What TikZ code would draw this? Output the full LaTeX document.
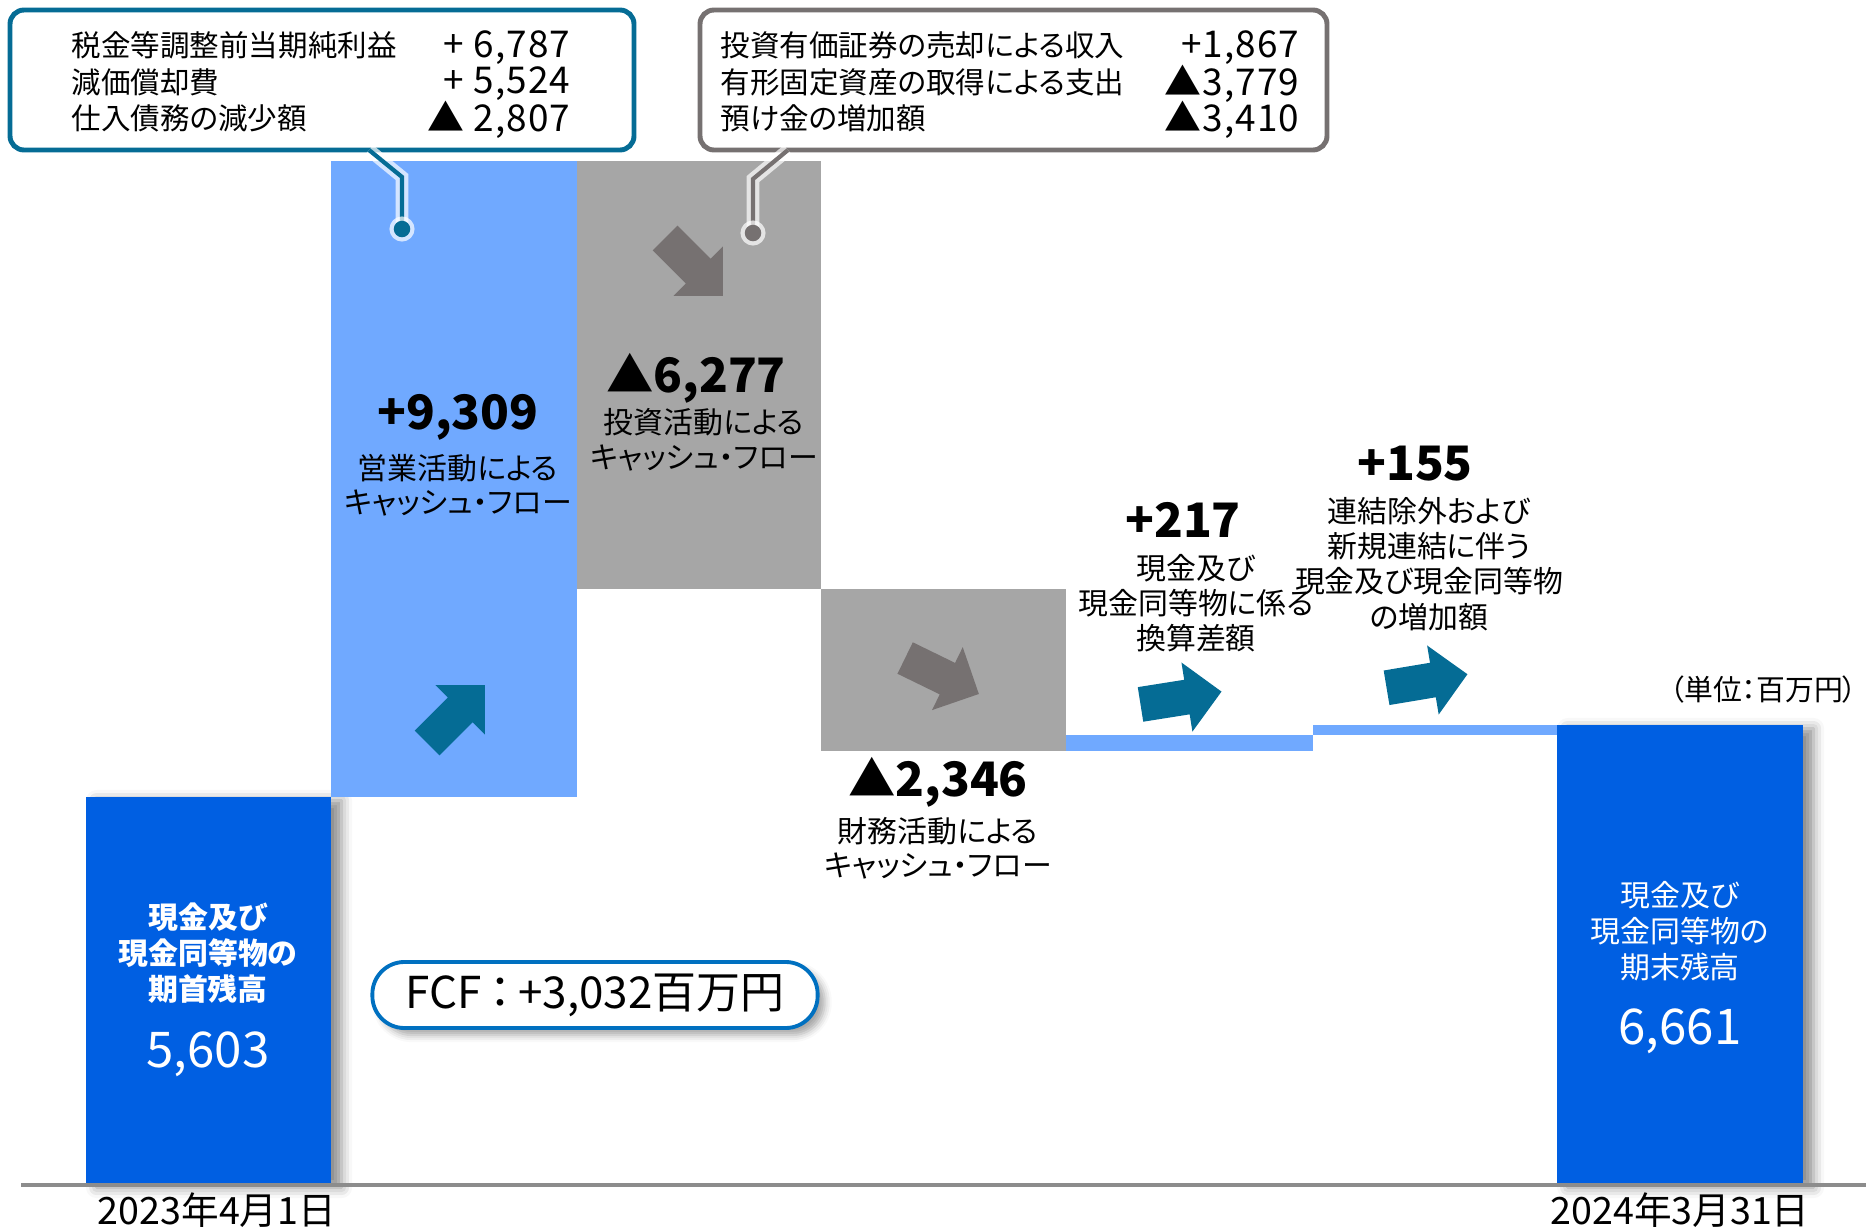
\documentclass[tikz,border=0pt]{standalone}
\usepackage{fontspec}
\setmainfont{Noto Sans CJK JP}[RawFeature=+palt]
\usetikzlibrary{fit,shadows.blur}
\definecolor{dblue}{HTML}{005FE2}
\definecolor{lblue}{HTML}{70A9FF}
\definecolor{gbar}{HTML}{A6A6A6}
\definecolor{tealc}{HTML}{056C95}
\definecolor{dgray}{HTML}{767171}
\definecolor{pillblue}{HTML}{0070C0}
\definecolor{axisgray}{HTML}{8C8C8C}
\tikzset{
  blockarrow/.pic={\path[pic actions] (-41,-17.5) -- (6,-17.5) -- (6,-35) -- (41,0) -- (6,35) -- (6,17.5) -- (-41,17.5) -- cycle;},
}
\begin{document}
\begin{tikzpicture}[x=0.01cm,y=-0.01cm,
  bar/.style={inner sep=0pt, outer sep=0pt, draw=none},
  endshadow/.style={blur shadow={shadow xshift=3pt, shadow yshift=-1pt, shadow blur radius=3pt, shadow opacity=45}},
  callbox/.style={inner sep=0pt, fill=white, line width=1.4pt, rounded corners=0.14cm},
  ctext/.style={inner sep=0pt, font=\fontsize{8.4pt}{10pt}\selectfont},
  cval/.style={inner sep=0pt, font=\fontsize{10.5pt}{12pt}\selectfont\addfontfeature{LetterSpace=3}},
  lbl/.style={inner sep=0pt, align=center, font=\fontsize{8.5pt}{9.8pt}\selectfont},
  lbl2/.style={inner sep=0pt, align=center, font=\fontsize{8.5pt}{10pt}\selectfont},
  num/.style={inner sep=0pt, font=\fontsize{13.5pt}{15pt}\selectfont\bfseries},
  wlbl/.style={inner sep=0pt, align=center, text=white, font=\fontsize{8.5pt}{10.2pt}\selectfont},
  wnum/.style={inner sep=0pt, text=white, font=\fontsize{14pt}{16pt}\selectfont},
  glowarrow/.style={preaction={draw=white, line width=2.2pt, opacity=.6}},
  pointer/.style={line width=1.2pt, preaction={draw=white, line width=3.6pt, opacity=.7}},
  dot/.style={circle, inner sep=0pt, minimum size=0.165cm, preaction={draw=white, line width=2.4pt, opacity=.7}},
]
\useasboundingbox (0,0) rectangle (1866,1227);

% bars
\node[bar, fill=dblue, endshadow, fit={(86,797)(331,1184)}] (b1) {};
\node[bar, fill=lblue, fit={(331,161)(577,797)}] (b2) {};
\node[bar, fill=gbar, fit={(577,161)(821,589)}] (b3) {};
\node[bar, fill=gbar, fit={(821,589)(1066,751)}] (b4) {};
\node[bar, fill=lblue, fit={(1066,735)(1313,751)}] (b5) {};
\node[bar, fill=lblue, fit={(1313,725)(1557,735)}] (b6) {};
\node[bar, fill=dblue, endshadow, fit={(1557,725)(1803,1184)}] (b7) {};

% axis
\coordinate (axl) at (21,1185);
\coordinate (axr) at (1866,1185);
\draw[axisgray, line width=1pt] (axl) -- (axr);

% callouts
\node[callbox, draw=tealc, fit={(10,10)(634,150)}] (cb1) {};
\node[callbox, draw=dgray, fit={(700,10)(1327,150)}] (cb2) {};

\node[ctext, anchor=west] (c1a) at (71,45) {税金等調整前当期純利益};
\node[ctext, anchor=west] (c1b) at (71,82) {減価償却費};
\node[ctext, anchor=west] (c1c) at (71,118) {仕入債務の減少額};
\node[cval, anchor=east] (v1a) at (571,48) {+ 6,787};
\node[cval, anchor=east] (v1b) at (571,84) {+ 5,524};
\node[cval, anchor=east] (v1c) at (571,120) {▲ 2,807};

\node[ctext, anchor=west] (c2a) at (720,45) {投資有価証券の売却による収入};
\node[ctext, anchor=west] (c2b) at (720,82) {有形固定資産の取得による支出};
\node[ctext, anchor=west] (c2c) at (720,118) {預け金の増加額};
\node[cval, anchor=east] (v2a) at (1300,48) {+1,867};
\node[cval, anchor=east] (v2b) at (1300,84) {▲3,779};
\node[cval, anchor=east] (v2c) at (1300,120) {▲3,410};

% pointers
\coordinate (p1s) at (369,150);
\coordinate (d1) at (402,229);
\draw[pointer, tealc] (p1s) -- (402,177) -- (d1);
\node[dot, fill=tealc] (d1n) at (d1) {};
\coordinate (p2s) at (788,150);
\coordinate (d2) at (753,233);
\draw[pointer, dgray] (p2s) -- (753,179) -- (d2);
\node[dot, fill=dgray] (d2n) at (d2) {};

% arrows
\pic[fill=tealc, glowarrow, rotate=45] (a1) at (456,714) {blockarrow};
\pic[fill=dgray, glowarrow, rotate=-45] (a2) at (694,267) {blockarrow};
\pic[fill=dgray, glowarrow, rotate=-26] (a3) at (942,676) {blockarrow};
\pic[fill=tealc, rotate=9] (a4) at (1181,698) {blockarrow};
\pic[fill=tealc, rotate=9.5] (a5) at (1427,681) {blockarrow};

% bar labels
\node[num] (n2) at (458,417) {+9,309};
\node[lbl] (l2) at (458,485) {営業活動による\\キャッシュ・フロー};
\node[num] (n3) at (696,378) {▲6,277};
\node[lbl] (l3) at (704,440) {投資活動による\\キャッシュ・フロー};
\node[num] (n4) at (938,782) {▲2,346};
\node[lbl] (l4) at (938,848) {財務活動による\\キャッシュ・フロー};
\node[num] (n5) at (1183,520) {+217};
\node[lbl2] (l5) at (1196,603) {現金及び\\現金同等物に係る\\換算差額};
\node[num] (n6) at (1415,464) {+155};
\node[lbl2] (l6) at (1429,564) {連結除外および\\新規連結に伴う\\現金及び現金同等物\\の増加額};

\node[wlbl, font=\fontsize{8.5pt}{10.2pt}\selectfont\bfseries] (l1) at (208,953) {現金及び\\現金同等物の\\期首残高};
\node[wnum] (n1) at (208,1054) {5,603};
\node[wlbl] (l7) at (1680,931) {現金及び\\現金同等物の\\期末残高};
\node[wnum] (n7) at (1680,1031) {6,661};

% FCF pill
\node[draw=pillblue, line width=1.1pt, fill=white, rounded corners=0.32cm, minimum width=4.45cm, minimum height=0.66cm, inner sep=0pt,
      blur shadow={shadow xshift=2pt, shadow yshift=-2pt, shadow blur radius=2pt, shadow opacity=35},
      font=\fontsize{12.5pt}{14pt}\selectfont] (fcf) at (595,995) {FCF\,：\,+3,032百万円};

% unit and dates
\node[inner sep=0pt, anchor=east, font=\fontsize{8.2pt}{9pt}\selectfont] (unit) at (1858,690) {（単位：百万円）};
\node[inner sep=0pt, font=\fontsize{10.7pt}{12pt}\selectfont] (dt1) at (217,1210) {2023年4月1日};
\node[inner sep=0pt, font=\fontsize{10.7pt}{12pt}\selectfont] (dt2) at (1680,1210) {2024年3月31日};
\end{tikzpicture}
\end{document}
